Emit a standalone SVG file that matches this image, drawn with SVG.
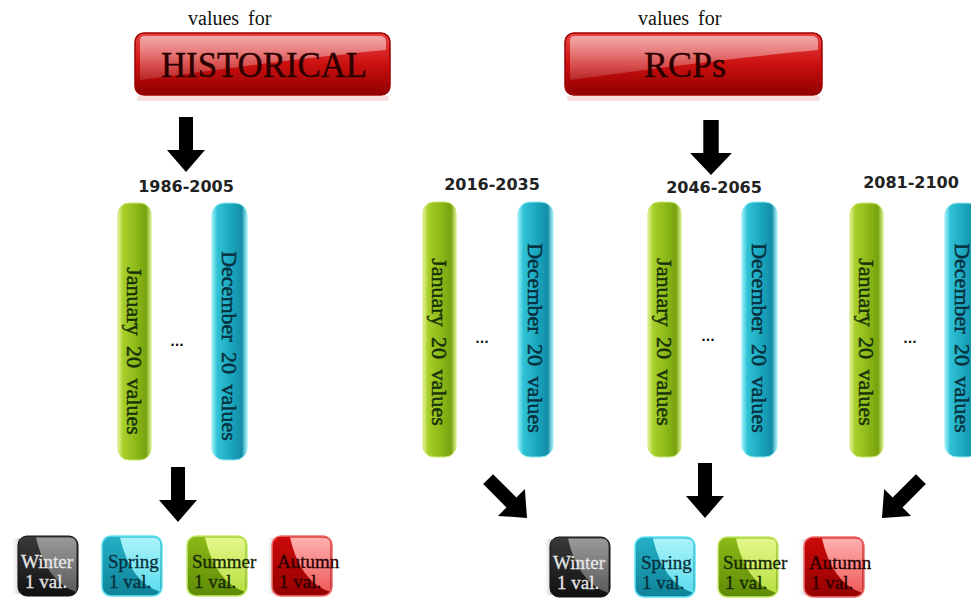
<svg xmlns="http://www.w3.org/2000/svg" width="971" height="599" viewBox="0 0 971 599">
<defs>
  <linearGradient id="redBase" x1="0" y1="0" x2="0" y2="1">
    <stop offset="0" stop-color="#e84545"/>
    <stop offset="0.5" stop-color="#cc1010"/>
    <stop offset="1" stop-color="#8e0000"/>
  </linearGradient>
  <linearGradient id="redGloss" x1="0" y1="0" x2="0" y2="1">
    <stop offset="0" stop-color="#ffffff" stop-opacity="0.55"/>
    <stop offset="1" stop-color="#ffffff" stop-opacity="0.12"/>
  </linearGradient>
  <linearGradient id="green" x1="0" y1="0" x2="1" y2="0">
    <stop offset="0" stop-color="#e6f59a"/>
    <stop offset="0.15" stop-color="#a8cf2a"/>
    <stop offset="0.55" stop-color="#8cb818"/>
    <stop offset="0.85" stop-color="#78a20e"/>
    <stop offset="1" stop-color="#d6ee8a"/>
  </linearGradient>
  <linearGradient id="cyan" x1="0" y1="0" x2="1" y2="0">
    <stop offset="0" stop-color="#9af2fa"/>
    <stop offset="0.15" stop-color="#30c2d6"/>
    <stop offset="0.55" stop-color="#1aa6be"/>
    <stop offset="0.85" stop-color="#138ea6"/>
    <stop offset="1" stop-color="#a8f4fa"/>
  </linearGradient>
  <linearGradient id="shadowL" x1="0" y1="0" x2="1" y2="0">
    <stop offset="0" stop-color="#ffffff" stop-opacity="0"/>
    <stop offset="1" stop-color="#b0b0b0" stop-opacity="0.8"/>
  </linearGradient>
  <linearGradient id="wBase" x1="0" y1="0" x2="0" y2="1"><stop offset="0" stop-color="#3a3a3a"/><stop offset="1" stop-color="#111"/></linearGradient>
  <linearGradient id="wHi" x1="0" y1="0" x2="0" y2="1"><stop offset="0" stop-color="#9a9a9a"/><stop offset="1" stop-color="#5a5a5a"/></linearGradient>
  <linearGradient id="sBase" x1="0" y1="0" x2="0" y2="1"><stop offset="0" stop-color="#25b0c6"/><stop offset="1" stop-color="#0f8298"/></linearGradient>
  <linearGradient id="sHi" x1="0" y1="0" x2="0" y2="1"><stop offset="0" stop-color="#aaf4fb"/><stop offset="1" stop-color="#5cdcec"/></linearGradient>
  <linearGradient id="uBase" x1="0" y1="0" x2="0" y2="1"><stop offset="0" stop-color="#8cba18"/><stop offset="1" stop-color="#5e8a06"/></linearGradient>
  <linearGradient id="uHi" x1="0" y1="0" x2="0" y2="1"><stop offset="0" stop-color="#e4f88a"/><stop offset="1" stop-color="#b8e040"/></linearGradient>
  <linearGradient id="aBase" x1="0" y1="0" x2="0" y2="1"><stop offset="0" stop-color="#cc0a0a"/><stop offset="1" stop-color="#950000"/></linearGradient>
  <linearGradient id="aHi" x1="0" y1="0" x2="0" y2="1"><stop offset="0" stop-color="#ffb0b0"/><stop offset="1" stop-color="#f05a5a"/></linearGradient>
  <polygon id="arrowDown" points="-7,-55 7,-55 7,-22 19,-22 0,0 -19,-22 -7,-22"/>
</defs>
<style>
  .head { font-family: "Liberation Serif", serif; font-size: 20px; fill: #111; word-spacing: 4px; }
  .btn { font-family: "Liberation Serif", serif; font-size: 36px; fill: #2a0000; stroke: #2a0000; stroke-width: 0.4px; text-anchor: middle; }
  .year { font-family: "DejaVu Sans", sans-serif; font-size: 16px; font-weight: bold; fill: #222; text-anchor: middle; }
  .dots { font-family: "DejaVu Sans", sans-serif; font-size: 12px; font-weight: bold; fill: #111; text-anchor: middle; }
  .bartxt { font-family: "Liberation Serif", serif; font-size: 22px; text-anchor: middle; word-spacing: 5px; stroke-width: 0.5px; }
  .gtxt { fill: #17320a; stroke: #17320a; }
  .ctxt { fill: #06303e; stroke: #06303e; }
  .season { font-family: "Liberation Serif", serif; font-size: 19px; stroke-width: 0.3px; }
  .arrow { fill: #000; }
</style>

<!-- Top buttons -->
<g id="historical">
  <text class="head" x="188" y="25">values for</text>
  <rect x="137" y="96" width="252" height="5" rx="2" fill="#f4d0d0" opacity="0.7"/>
  <rect x="135" y="33" width="255" height="62" rx="9" fill="url(#redBase)" stroke="#a00000" stroke-width="1.5"/>
  <path d="M140,40 Q140,36 145,36 L380,36 Q386,36 386,42 L386,50 Q300,58 140,80 Z" fill="url(#redGloss)"/>
  <text class="btn" x="264" y="77" textLength="206" lengthAdjust="spacingAndGlyphs">HISTORICAL</text>
</g>
<g id="rcps">
  <text class="head" x="638" y="25">values for</text>
  <rect x="567" y="96" width="253" height="5" rx="2" fill="#f4d0d0" opacity="0.7"/>
  <rect x="565" y="33" width="257" height="62" rx="9" fill="url(#redBase)" stroke="#a00000" stroke-width="1.5"/>
  <path d="M570,40 Q570,36 575,36 L812,36 Q818,36 818,42 L818,50 Q730,58 570,80 Z" fill="url(#redGloss)"/>
  <text class="btn" x="685" y="77">RCPs</text>
</g>

<!-- Period groups -->
<g id="period-1986-2005">
  <text class="year" x="186" y="192">1986-2005</text>
  <rect x="118" y="203" width="33" height="257" rx="11" fill="url(#green)" stroke="#c8e870" stroke-width="1"/>
  <rect x="212" y="203" width="35" height="257" rx="12" fill="url(#cyan)" stroke="#8eeaf4" stroke-width="1"/>
  <text class="bartxt gtxt" transform="translate(134.5,351) rotate(90)" dy="0.33em">January 20 values</text>
  <text class="bartxt ctxt" transform="translate(229.5,346) rotate(90)" dy="0.33em">December 20 values</text>
  <text class="dots" x="177" y="346">...</text>
</g>
<g id="period-2016-2035">
  <text class="year" x="492" y="190">2016-2035</text>
  <rect x="423" y="202" width="33" height="255" rx="11" fill="url(#green)" stroke="#c8e870" stroke-width="1"/>
  <rect x="518" y="202" width="35" height="255" rx="12" fill="url(#cyan)" stroke="#8eeaf4" stroke-width="1"/>
  <text class="bartxt gtxt" transform="translate(439.5,342) rotate(90)" dy="0.33em">January 20 values</text>
  <text class="bartxt ctxt" transform="translate(535.5,338) rotate(90)" dy="0.33em">December 20 values</text>
  <text class="dots" x="482" y="343">...</text>
</g>
<g id="period-2046-2065">
  <text class="year" x="714" y="193">2046-2065</text>
  <rect x="648" y="202" width="33" height="255" rx="11" fill="url(#green)" stroke="#c8e870" stroke-width="1"/>
  <rect x="742" y="202" width="35" height="255" rx="12" fill="url(#cyan)" stroke="#8eeaf4" stroke-width="1"/>
  <text class="bartxt gtxt" transform="translate(664.5,342) rotate(90)" dy="0.33em">January 20 values</text>
  <text class="bartxt ctxt" transform="translate(759.5,338) rotate(90)" dy="0.33em">December 20 values</text>
  <text class="dots" x="708" y="341">...</text>
</g>
<g id="period-2081-2100">
  <text class="year" x="911" y="188">2081-2100</text>
  <rect x="850" y="203" width="33" height="254" rx="11" fill="url(#green)" stroke="#c8e870" stroke-width="1"/>
  <rect x="945" y="203" width="35" height="254" rx="12" fill="url(#cyan)" stroke="#8eeaf4" stroke-width="1"/>
  <text class="bartxt gtxt" transform="translate(866.5,342) rotate(90)" dy="0.33em">January 20 values</text>
  <text class="bartxt ctxt" transform="translate(962.5,338) rotate(90)" dy="0.33em">December 20 values</text>
  <text class="dots" x="910" y="343">...</text>
</g>

<!-- Season boxes, historical -->
<g id="hist-winter" transform="translate(18,536)">
  <rect x="-7" y="2" width="9" height="56" fill="url(#shadowL)"/>
  <rect width="60" height="60" rx="9" fill="url(#wBase)" stroke="#111" stroke-width="1"/>
  <path d="M18,1.5 L51,1.5 Q58.5,1.5 58.5,9 L58.5,56 Q28,46 18,1.5 Z" fill="url(#wHi)"/>
  <text class="season" x="3" y="32" fill="#e6e6e6" stroke="#e6e6e6">Winter</text>
  <text class="season" x="7" y="52" fill="#e6e6e6" stroke="#e6e6e6">1 val.</text>
</g>
<g id="hist-spring" transform="translate(102,536)">
  <rect width="60" height="60" rx="9" fill="url(#sBase)" stroke="#5fe2f2" stroke-width="1.5"/>
  <path d="M18,1.5 L51,1.5 Q58.5,1.5 58.5,9 L58.5,56 Q28,46 18,1.5 Z" fill="url(#sHi)"/>
  <text class="season" x="6" y="32" fill="#07303c" stroke="#07303c">Spring</text>
  <text class="season" x="7" y="52" fill="#07303c" stroke="#07303c">1 val.</text>
</g>
<g id="hist-summer" transform="translate(187,536)">
  <rect width="60" height="60" rx="9" fill="url(#uBase)" stroke="#c8ec70" stroke-width="1.5"/>
  <path d="M18,1.5 L51,1.5 Q58.5,1.5 58.5,9 L58.5,56 Q28,46 18,1.5 Z" fill="url(#uHi)"/>
  <text class="season" x="5" y="32" fill="#162805" stroke="#162805">Summer</text>
  <text class="season" x="7" y="52" fill="#162805" stroke="#162805">1 val.</text>
</g>
<g id="hist-autumn" transform="translate(272,536)">
  <rect x="-7" y="2" width="9" height="56" fill="url(#shadowL)" opacity="0.6"/>
  <rect width="60" height="60" rx="9" fill="url(#aBase)" stroke="#f07070" stroke-width="1.5"/>
  <path d="M18,1.5 L51,1.5 Q58.5,1.5 58.5,9 L58.5,56 Q28,46 18,1.5 Z" fill="url(#aHi)"/>
  <text class="season" x="5" y="32" fill="#2a0000" stroke="#2a0000">Autumn</text>
  <text class="season" x="7" y="52" fill="#2a0000" stroke="#2a0000">1 val.</text>
</g>

<!-- Season boxes, RCPs -->
<g id="rcp-winter" transform="translate(550,537)">
  <rect x="-7" y="2" width="9" height="56" fill="url(#shadowL)"/>
  <rect width="60" height="60" rx="9" fill="url(#wBase)" stroke="#111" stroke-width="1"/>
  <path d="M18,1.5 L51,1.5 Q58.5,1.5 58.5,9 L58.5,56 Q28,46 18,1.5 Z" fill="url(#wHi)"/>
  <text class="season" x="3" y="32" fill="#e6e6e6" stroke="#e6e6e6">Winter</text>
  <text class="season" x="7" y="52" fill="#e6e6e6" stroke="#e6e6e6">1 val.</text>
</g>
<g id="rcp-spring" transform="translate(635,537)">
  <rect width="60" height="60" rx="9" fill="url(#sBase)" stroke="#5fe2f2" stroke-width="1.5"/>
  <path d="M18,1.5 L51,1.5 Q58.5,1.5 58.5,9 L58.5,56 Q28,46 18,1.5 Z" fill="url(#sHi)"/>
  <text class="season" x="6" y="32" fill="#07303c" stroke="#07303c">Spring</text>
  <text class="season" x="7" y="52" fill="#07303c" stroke="#07303c">1 val.</text>
</g>
<g id="rcp-summer" transform="translate(718,537)">
  <rect width="60" height="60" rx="9" fill="url(#uBase)" stroke="#c8ec70" stroke-width="1.5"/>
  <path d="M18,1.5 L51,1.5 Q58.5,1.5 58.5,9 L58.5,56 Q28,46 18,1.5 Z" fill="url(#uHi)"/>
  <text class="season" x="5" y="32" fill="#162805" stroke="#162805">Summer</text>
  <text class="season" x="7" y="52" fill="#162805" stroke="#162805">1 val.</text>
</g>
<g id="rcp-autumn" transform="translate(804,537)">
  <rect x="-7" y="2" width="9" height="56" fill="url(#shadowL)" opacity="0.6"/>
  <rect width="60" height="60" rx="9" fill="url(#aBase)" stroke="#f07070" stroke-width="1.5"/>
  <path d="M18,1.5 L51,1.5 Q58.5,1.5 58.5,9 L58.5,56 Q28,46 18,1.5 Z" fill="url(#aHi)"/>
  <text class="season" x="5" y="32" fill="#2a0000" stroke="#2a0000">Autumn</text>
  <text class="season" x="7" y="52" fill="#2a0000" stroke="#2a0000">1 val.</text>
</g>

<!-- Connectors -->
<g id="connectors" class="arrow">
  <use href="#arrowDown" transform="translate(186,172)"/>
  <use href="#arrowDown" transform="translate(711,175) scale(1.1,1)"/>
  <use href="#arrowDown" transform="translate(178,522)"/>
  <use href="#arrowDown" transform="translate(705,518)"/>
  <use href="#arrowDown" transform="translate(527,518) rotate(-45)"/>
  <use href="#arrowDown" transform="translate(882,518) rotate(45)"/>
</g>
</svg>
